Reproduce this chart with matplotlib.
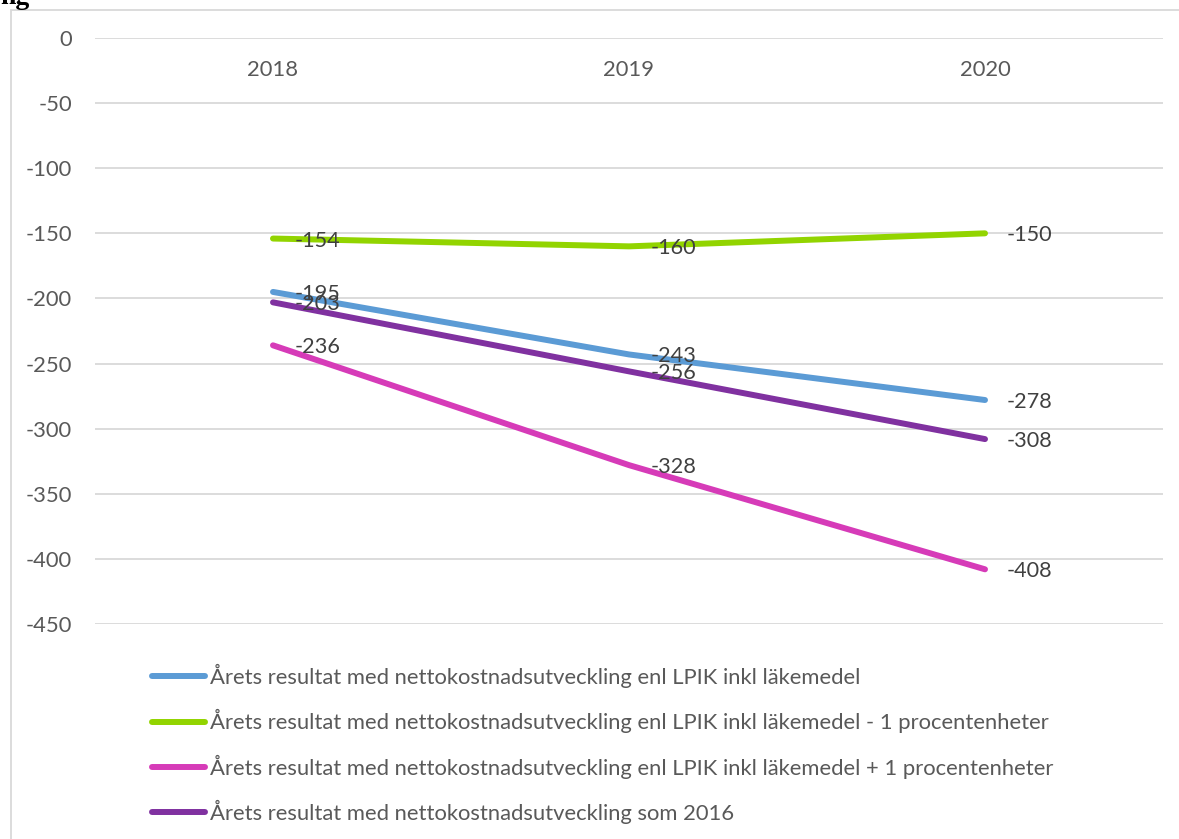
import matplotlib
matplotlib.use("Agg")
import matplotlib.pyplot as plt
from matplotlib.patches import Rectangle

plt.rcParams['font.family'] = ['Lato', 'DejaVu Sans']

years = ["2018", "2019", "2020"]
series_labels = [
    "Årets resultat med nettokostnadsutveckling enl LPIK inkl läkemedel",
    "Årets resultat med nettokostnadsutveckling enl LPIK inkl läkemedel - 1 procentenheter",
    "Årets resultat med nettokostnadsutveckling enl LPIK inkl läkemedel + 1 procentenheter",
    "Årets resultat med nettokostnadsutveckling som 2016",
]
lpik = [-195, -243, -278]
lpik_minus1 = [-154, -160, -150]
lpik_plus1 = [-236, -328, -408]
som2016 = [-203, -256, -308]
y_ticks = [0, -50, -100, -150, -200, -250, -300, -350, -400, -450]

colors = ["#5B9BD5", "#92D400", "#D63BB8", "#8031A0"]
all_series = [lpik, lpik_minus1, lpik_plus1, som2016]

W, H = 1179, 839
fig = plt.figure(figsize=(W / 100, H / 100), dpi=100)
fig.patch.set_facecolor("white")

# outer chart border
fig.patches.append(Rectangle((11 / W, -0.2), 1.2, 1.2 - 10 / H,
                             transform=fig.transFigure, fill=False,
                             edgecolor="#D9D9D9", linewidth=1.3))

# cut-off heading above
fig.text(0 / W, 1 - 4 / H, "ng", family="Liberation Serif", fontweight="bold",
         fontsize=20, va="baseline", ha="left", color="black")

ax = fig.add_axes([95 / W, 1 - 624 / H, (1163 - 95) / W, (624 - 38) / H])
ax.set_xlim(-0.5, 2.5)
ax.set_ylim(-450, 0)
for s in ax.spines.values():
    s.set_visible(False)
ax.set_yticks(y_ticks)
ax.set_yticklabels([str(v) for v in y_ticks])
ax.tick_params(axis="y", length=0, pad=16.5, labelsize=15.8, labelcolor="#595959")
ax.set_xticks([])
ax.grid(axis="y", color="#D9D9D9", linewidth=1.3)
ax.set_axisbelow(True)

x = list(range(len(years)))
for i, yr in enumerate(years):
    ax.annotate(yr, (i, 0), xytext=(0, -32), textcoords="offset pixels",
                ha="center", va="center", fontsize=15.8, color="#595959")

handles = []
for vals, col, lab in zip(all_series, colors, series_labels):
    ln, = ax.plot(x, vals, color=col, linewidth=4.3, solid_capstyle="round",
                  solid_joinstyle="round", label=lab)
    handles.append(ln)
    for xi, v in zip(x, vals):
        ax.annotate(str(v), (xi, v), xytext=(22, -2), textcoords="offset pixels",
                    ha="left", va="center", fontsize=15.6, color="#404040")

fig.legend(handles=handles, labels=series_labels, loc="upper left",
           bbox_to_anchor=(152 / W, 1 - 664 / H), frameon=False,
           borderpad=0, borderaxespad=0, handlelength=2.42, handletextpad=0.23,
           labelspacing=0.96, fontsize=15.8, labelcolor="#595959")

fig.savefig("out.png", dpi=100)
